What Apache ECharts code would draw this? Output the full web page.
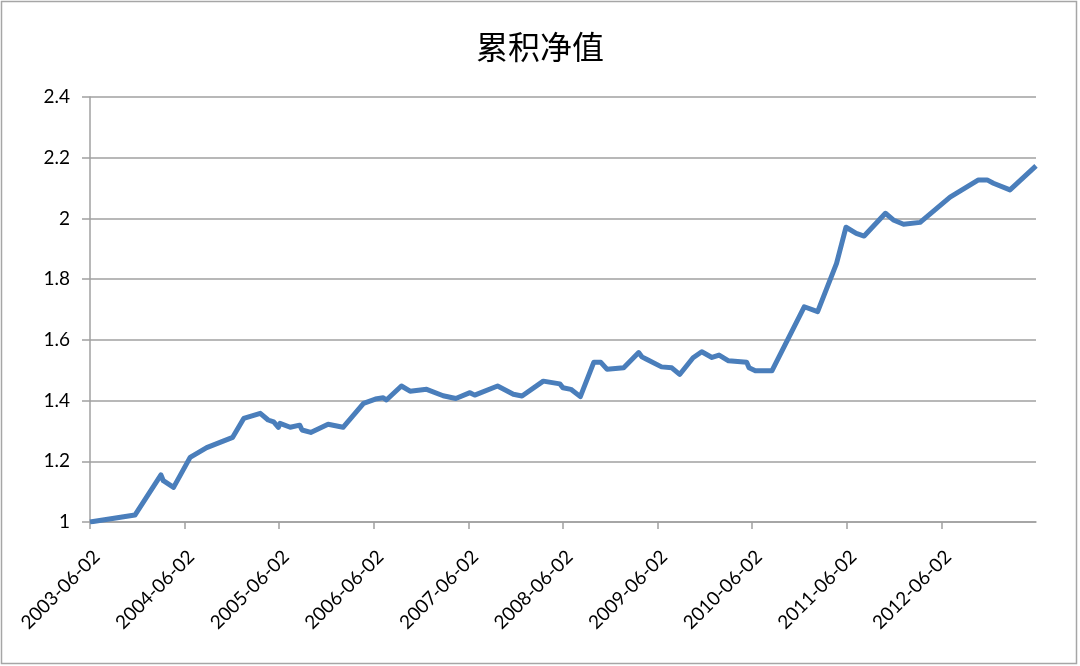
<!DOCTYPE html>
<html>
<head>
<meta charset="utf-8">
<script src="https://cdn.jsdelivr.net/npm/echarts@6/dist/echarts.min.js"></script>
<style>
html,body{margin:0;padding:0;background:#fff;}
#c{width:1080px;height:666px;}
</style>
</head>
<body>
<div id="c"></div>
<script>
// x = months elapsed since 2003-06-02
var tickLabels = ['2003-06-02','2004-06-02','2005-06-02','2006-06-02','2007-06-02','2008-06-02','2009-06-02','2010-06-02','2011-06-02','2012-06-02','2013-06-02'];
var months = [0,5.7,9.0,9.3,10.6,12.7,14.8,18.1,19.5,21.6,22.6,23.3,23.9,24.1,25.4,26.6,26.9,28.0,30.2,32.1,34.7,36.2,37.2,37.6,39.5,40.6,42.7,44.8,46.4,48.2,48.8,51.7,53.7,54.8,57.5,59.6,60.0,61.0,62.2,63.9,64.8,65.6,67.7,69.6,70.0,70.6,72.5,73.8,74.8,76.5,77.6,78.9,79.8,81.0,83.3,83.6,84.4,86.5,90.6,92.3,94.7,95.9,97.2,98.2,100.9,101.9,103.2,105.3,109.1,112.7,113.8,114.6,116.7,120.0];
var nav = [1.000,1.023,1.155,1.136,1.114,1.213,1.245,1.279,1.341,1.358,1.336,1.330,1.312,1.325,1.312,1.319,1.303,1.295,1.322,1.312,1.391,1.405,1.409,1.402,1.448,1.431,1.437,1.416,1.407,1.426,1.418,1.448,1.421,1.415,1.464,1.455,1.442,1.437,1.413,1.526,1.526,1.503,1.508,1.558,1.544,1.536,1.511,1.508,1.486,1.541,1.561,1.542,1.550,1.531,1.526,1.508,1.498,1.498,1.709,1.693,1.852,1.971,1.951,1.942,2.017,1.995,1.981,1.987,2.070,2.127,2.127,2.116,2.094,2.173];

var seriesData = months.map(function(m,i){return [m, nav[i]];});

var chart = echarts.init(document.getElementById('c'), null, {renderer:'canvas'});
chart.setOption({
  animation:false,
  backgroundColor:'#ffffff',
  title:{
    text:'累积净值',
    left:'center',
    top:26,
    textStyle:{fontFamily:'Noto Sans CJK SC',fontSize:32,fontWeight:'normal',color:'#000'}
  },
  graphic:[{
    type:'rect',
    shape:{x:1.5,y:1.5,width:1075,height:662},
    style:{fill:'none',stroke:'#a6a6a6',lineWidth:1.5},
    silent:true
  }],
  grid:{left:90,right:44,top:97,bottom:144,containLabel:false},
  xAxis:{
    type:'value',
    min:0,max:120,interval:12,
    axisLine:{show:true,lineStyle:{color:'#a0a0a0',width:1.5}},
    axisTick:{show:true,length:7,lineStyle:{color:'#a0a0a0',width:1.5}},
    splitLine:{show:false},
    axisLabel:{
      rotate:45,
      fontFamily:'Lato',
      fontSize:19,
      color:'#000',
      margin:25,
      verticalAlign:'top',
      showMaxLabel:false,
      formatter:function(v){var i=Math.round(v/12);return i<tickLabels.length-1?tickLabels[i]:'';}
    }
  },
  yAxis:{
    type:'value',
    min:1,max:2.4,interval:0.2,
    axisLine:{show:true,lineStyle:{color:'#a0a0a0',width:1.5}},
    axisTick:{show:true,length:8,lineStyle:{color:'#a0a0a0',width:1.5}},
    splitLine:{show:true,lineStyle:{color:'#a0a0a0',width:1.5}},
    axisLabel:{
      fontFamily:'Lato',fontSize:19,color:'#000',margin:20,
      formatter:function(v){return String(parseFloat(v.toFixed(1)));}
    }
  },
  series:[{
    type:'line',
    data:seriesData,
    showSymbol:false,
    lineStyle:{color:'#4a7ebb',width:5,join:'round'},
    itemStyle:{color:'#4a7ebb'}
  }]
});
</script>
</body>
</html>
